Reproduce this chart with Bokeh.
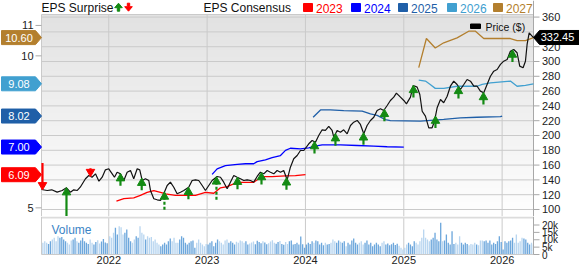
import numpy as np
from bokeh.plotting import figure
from bokeh.models import Range1d
from bokeh.core.properties import value
from bokeh.layouts import column
from bokeh.embed import file_html
from bokeh.resources import INLINE

FONT = "Liberation Sans"

# ---------------- data ----------------
price_t = [2021.316, 2021.374, 2021.42, 2021.475, 2021.526, 2021.57, 2021.61, 2021.644, 2021.68, 2021.71,
           2021.763, 2021.797, 2021.83, 2021.865, 2021.90, 2021.933, 2021.966, 2022.0, 2022.035, 2022.058,
           2022.085, 2022.119, 2022.153, 2022.187, 2022.221, 2022.254, 2022.289, 2022.315, 2022.34, 2022.373,
           2022.407, 2022.424, 2022.458, 2022.492, 2022.526, 2022.559, 2022.594, 2022.627, 2022.661, 2022.695,
           2022.729, 2022.763, 2022.813, 2022.848, 2022.882, 2022.915, 2022.95, 2022.983, 2023.017, 2023.051,
           2023.102, 2023.136, 2023.169, 2023.204, 2023.237, 2023.271, 2023.306, 2023.339, 2023.373, 2023.407,
           2023.441, 2023.474, 2023.509, 2023.542, 2023.576, 2023.611, 2023.644, 2023.678, 2023.712, 2023.746,
           2023.779, 2023.814, 2023.847, 2023.881, 2023.916, 2023.949, 2023.983, 2024.034, 2024.068, 2024.102,
           2024.135, 2024.17, 2024.203, 2024.237, 2024.271, 2024.288, 2024.322, 2024.356, 2024.389, 2024.424,
           2024.458, 2024.491, 2024.526, 2024.559, 2024.593, 2024.627, 2024.661, 2024.695, 2024.729, 2024.763,
           2024.796, 2024.831, 2024.864, 2024.898, 2024.925, 2024.966, 2025.0, 2025.027, 2025.068, 2025.096,
           2025.136, 2025.163, 2025.187, 2025.22, 2025.254, 2025.288, 2025.312, 2025.339, 2025.373, 2025.406,
           2025.441, 2025.474, 2025.508, 2025.542, 2025.576, 2025.61, 2025.644, 2025.678, 2025.712, 2025.746,
           2025.779, 2025.813, 2025.847, 2025.881, 2025.915, 2025.949, 2025.983, 2026.016, 2026.051, 2026.084,
           2026.118, 2026.152, 2026.179, 2026.213, 2026.237, 2026.254, 2026.275, 2026.305, 2026.319]
price_v = [127.0, 125.7, 126.6, 123.4, 125.7, 129.3, 123.4, 126.6, 125.7, 130.1,
           141.5, 145.9, 143.6, 148.2, 138.2, 143.6, 153.6, 155.0, 148.2, 143.6,
           150.4, 148.2, 139.2, 150.4, 152.7, 141.5, 155.0, 153.6, 139.2, 141.5,
           139.2, 125.7, 114.5, 113.1, 112.2, 121.2, 132.4, 136.9, 130.1, 121.2,
           123.4, 125.7, 130.1, 139.2, 140.1, 139.2, 132.4, 125.7, 132.4, 139.2,
           144.6, 143.6, 136.9, 128.0, 136.9, 145.9, 143.6, 141.5, 139.2, 140.1,
           139.2, 136.9, 144.6, 150.4, 148.2, 152.7, 150.4, 148.2, 152.7, 150.4,
           152.7, 140.1, 157.2, 168.5, 173.0, 179.7, 179.7, 188.8, 193.2, 190.9,
           200.0, 207.7, 206.8, 212.2, 206.8, 197.7, 206.8, 204.5, 207.7, 202.3,
           213.5, 218.0, 220.3, 214.9, 202.3, 213.5, 220.3, 224.7, 233.8, 236.1,
           233.8, 240.5, 247.3, 251.8, 257.2, 251.8, 247.3, 242.8, 251.8, 267.6,
           265.3, 255.4, 232.8, 226.1, 210.4, 210.4, 219.3, 237.4, 248.6, 244.2,
           253.1, 266.6, 273.4, 268.9, 262.2, 268.9, 275.7, 273.4, 266.6, 266.6,
           259.9, 257.7, 268.9, 280.1, 286.9, 289.2, 296.0, 300.4, 302.7, 313.9,
           316.2, 311.8, 293.7, 291.5, 300.4, 323.0, 338.8, 334.2, 332.45]
last_price = 332.45

cons2023_t = [2022.078, 2022.153, 2022.254, 2022.322, 2022.39, 2022.458, 2022.526, 2022.577, 2022.678, 2022.78,
              2022.882, 2022.983, 2023.068, 2023.136, 2023.204, 2023.288, 2023.339, 2023.474, 2023.56, 2023.661,
              2023.797, 2023.898, 2024.0]
cons2023_v = [5.22, 5.30, 5.33, 5.41, 5.51, 5.57, 5.51, 5.46, 5.41, 5.41,
              5.41, 5.51, 5.48, 5.66, 5.70, 5.81, 5.84, 5.84, 6.03, 6.03,
              6.05, 6.06, 6.09]
cons2024_t = [2023.051, 2023.102, 2023.186, 2023.306, 2023.39, 2023.474, 2023.509, 2023.593, 2023.661, 2023.746,
              2023.797, 2023.847, 2023.949, 2024.034, 2024.084, 2024.17, 2024.356, 2024.526, 2024.695, 2024.831,
              2025.0]
cons2024_v = [6.10, 6.28, 6.39, 6.43, 6.45, 6.45, 6.52, 6.58, 6.65, 6.72,
              6.89, 6.96, 6.94, 6.97, 7.02, 7.07, 7.07, 7.05, 7.03, 7.01,
              7.00]
cons2025_t = [2024.078, 2024.153, 2024.254, 2024.389, 2024.577, 2024.661, 2024.729, 2024.814, 2024.864, 2025.169,
              2025.406, 2025.576, 2025.746, 2025.983, 2026.0]
cons2025_v = [7.98, 8.22, 8.22, 8.20, 8.18, 8.09, 8.04, 7.90, 7.87, 7.85,
              7.91, 7.96, 7.98, 8.00, 8.02]
cons2026_t = [2025.152, 2025.22, 2025.269, 2025.32, 2025.406, 2025.542, 2025.746, 2025.797, 2025.881, 2026.084,
              2026.152, 2026.237, 2026.319]
cons2026_v = [9.20, 9.17, 9.06, 8.93, 8.93, 9.00, 9.00, 9.06, 9.11, 9.17,
              9.00, 9.03, 9.08]
cons2027_t = [2025.152, 2025.23, 2025.32, 2025.406, 2025.542, 2025.66, 2025.729, 2025.813, 2025.949, 2026.084,
              2026.152, 2026.237, 2026.319]
cons2027_v = [9.61, 10.57, 10.26, 10.43, 10.59, 10.81, 10.81, 10.57, 10.57, 10.57,
              10.50, 10.50, 10.60]

cons_years = ["2023", "2024", "2025", "2026", "2027"]
cons_latest = [6.09, 7.00, 8.02, 9.08, 10.60]

# EPS surprises: report dates, arrow length (in $ of the price scale), dashed flag
beat_t = [2021.57, 2022.119, 2022.335, 2022.566, 2022.81, 2023.095, 2023.309, 2023.553, 2023.807,
          2024.092, 2024.305, 2024.59, 2024.803, 2025.098, 2025.322, 2025.556, 2025.81, 2026.105]
beat_len = [42, 16, 16, 24, 16, 31, 16, 16, 16, 16, 16, 16, 16, 16, 16, 16, 16, 16]
beat_dash = [False, False, False, True, False, True, False, False, False,
             False, False, False, False, False, False, False, False, False]
miss_t = [2021.326, 2021.814]
miss_len = [36, 11]

# weekly volume (thousands)
vol_2021 = [7.9, 9.0, 7.9, 7.2, 9.0, 10.2, 11.3, 9.0, 12.4, 11.3, 11.8, 10.2, 9.0, 7.9, 6.8, 9.5, 10.2, 11.3,
            9.0, 7.9, 9.5, 11.3, 9.0, 7.9, 7.2, 10.2, 7.9, 6.8, 8.5, 9.6, 7.4, 8.8, 10.5, 8.2, 7.6]
vol_2022 = [12.4, 11.3, 14.7, 18.1, 13.6, 19.2, 18.5, 13.6, 14.7, 16.9, 11.3, 9.0, 7.9, 10.2, 12.4, 11.3, 19.2,
            14.7, 13.6, 10.2, 12.4, 11.3, 11.8, 9.0, 10.2, 7.9, 6.8, 5.6, 6.8, 7.9, 6.8, 9.0, 10.8, 9.0, 11.3,
            7.9, 7.9, 10.2, 12.4, 11.3, 7.9, 6.8, 7.9, 9.0, 9.5, 4.5, 7.9, 10.2, 7.9, 6.8, 5.6, 7.2]
vol_2023 = [6.8, 7.9, 9.0, 5.6, 7.9, 10.2, 9.0, 7.9, 6.8, 9.5, 10.2, 7.9, 9.0, 7.9, 6.8, 8.6, 7.9, 9.5, 9.0,
            7.9, 9.0, 6.8, 7.4, 8.1, 8.8, 7.0, 9.3, 8.4, 7.6, 9.0, 8.2, 6.9, 7.7, 8.8, 9.6, 8.0, 7.3, 8.5, 9.1,
            7.2, 6.6, 8.4, 7.2, 9.0, 9.5, 6.8, 7.2, 7.9, 6.8, 12.2, 7.0, 4.5]
vol_2024 = [6.8, 7.9, 7.2, 9.0, 7.9, 9.5, 9.0, 6.8, 7.9, 6.3, 7.9, 6.8, 7.2, 7.9, 10.2, 9.0, 7.9, 9.5, 8.6,
            7.9, 9.0, 5.6, 7.9, 6.8, 9.5, 10.8, 7.9, 6.8, 7.9, 9.0, 6.8, 7.9, 9.5, 6.8, 7.9, 5.6, 6.8, 7.9,
            6.8, 5.6, 7.9, 9.0, 6.8, 7.4, 6.2, 7.0, 8.0, 6.5, 7.3, 6.0, 4.5, 3.4]
vol_2025 = [4.5, 6.8, 7.9, 6.8, 5.6, 9.0, 7.9, 6.8, 9.0, 11.3, 16.9, 11.3, 10.2, 9.0, 10.2, 11.3, 14.7, 10.2,
            9.0, 21.5, 9.0, 9.5, 13.6, 7.9, 6.8, 15.8, 7.2, 7.9, 6.8, 12.4, 7.9, 6.8, 7.9, 7.2, 6.3, 7.2, 6.8,
            7.9, 6.8, 6.3, 9.5, 9.5, 9.0, 9.5, 7.9, 9.5, 6.8, 7.9, 7.2, 9.0, 12.4, 8.4]
vol_2026 = [3.4, 9.0, 7.9, 9.0, 9.5, 11.3, 7.9, 13.6, 7.9, 9.0, 11.3, 10.8, 10.2, 7.9, 6.8, 7.9, 6.8]

year_ticks = [2022, 2023, 2024, 2025, 2026]
price_ticks = [100, 120, 140, 160, 180, 200, 220, 240, 260, 280, 300, 320, 360]
price_grid = [100, 120, 140, 160, 180, 200, 220, 240, 260, 280, 300, 320, 340, 360]
eps_ticks = [5, 10, 11]
vol_ticks = [0, 5, 10, 15, 20]
vol_tick_labels = ["0", "5k", "10k", "15k", "20k"]

# ---------------- layout constants (pixels) ----------------
W = 579
LEFT, RIGHT_X, TOP = 41, 533, 14     # chart area left / right edge, top edge
MAIN_H, VOL_H = 216, 48
VOL_FB = 38                          # volume frame bottom inside the volume canvas
T0, T1 = 2021.316, 2026.319
PXY = (RIGHT_X - LEFT) / (T1 - T0)   # px per year
PPX = 0.74                           # px per $ of price
P_END = 363.5
EPX = 30.4                           # px per $ of EPS
E_END = 11.36
VPX = 1.475                          # px per 1k shares

def X(px):
    return T0 + (px - LEFT) / PXY

def YP(py):
    return P_END - (py - TOP) / PPX

def YE(py):
    return E_END - (py - TOP) / EPX

def YV(py):
    return (VOL_FB - py) / VPX

P_START = YP(MAIN_H)
V_END = YV(0)

GRID = "#cacaca"
AXIS = "#a8a8a8"
GREEN = "#138a13"
RED = "#ff0000"
TXT = "#222222"
COLORS = {"2023": "#ff0000", "2024": "#0000ff", "2025": "#1f5fa8", "2026": "#41a0d0", "2027": "#b37f2e"}

def txt(fig, xs, ys, texts, colors, size, align="left", baseline="middle", **kw):
    fig.text(x=xs, y=ys, text=texts, text_color=colors, text_font=value(FONT), text_font_size=size,
             text_align=align, text_baseline=baseline, **kw)

# ---------------- main panel ----------------
p = figure(width=W, height=MAIN_H, x_range=Range1d(X(0), X(W)), y_range=Range1d(YP(MAIN_H), YP(0)),
           min_border=0, x_axis_location=None, y_axis_location=None,
           output_backend="svg", toolbar_location=None)
p.grid.visible = False
p.outline_line_color = None
p.background_fill_color = "white"
p.border_fill_color = "white"
p.extra_y_ranges = {"eps": Range1d(YE(MAIN_H), YE(0))}

# vertical gradient background of the chart area
N = 120
frac = np.linspace(0.0, 1.0, N)
g = np.clip(255 - 29 * frac, 0, 255).astype(np.uint8)
img = np.zeros((N, 1), dtype=np.uint32)
view = img.view(dtype=np.uint8).reshape((N, 1, 4))
view[:, 0, 0] = g
view[:, 0, 1] = g
view[:, 0, 2] = g
view[:, 0, 3] = 255
p.image_rgba(image=[img], x=T0, y=P_START, dw=T1 - T0, dh=P_END - P_START)

# grid lines
p.segment(x0=[T0] * len(price_grid), x1=[T1] * len(price_grid), y0=price_grid, y1=price_grid,
          line_color=GRID, line_width=1)
p.segment(x0=year_ticks, x1=year_ticks, y0=[P_START] * len(year_ticks), y1=[P_END] * len(year_ticks),
          line_color=GRID, line_width=1)
# chart border
p.segment(x0=[T0, T0], x1=[T1, T0], y0=[P_END, P_START], y1=[P_END, P_END], line_color=GRID, line_width=1)
p.segment(x0=[T1], x1=[T1], y0=[P_START], y1=[YP(0)], line_color=AXIS, line_width=1)

# consensus lines
for yr, tt, vv in [("2023", cons2023_t, cons2023_v), ("2024", cons2024_t, cons2024_v),
                   ("2025", cons2025_t, cons2025_v), ("2026", cons2026_t, cons2026_v),
                   ("2027", cons2027_t, cons2027_v)]:
    p.line(tt, vv, y_range_name="eps", line_color=COLORS[yr], line_width=1.3)

# price
p.line(price_t, price_v, line_color="#111111", line_width=1.2)

# surprise arrows
HEAD = 4.6 / PPX
bt = np.array(beat_t)
btip = np.interp(bt, price_t, price_v)
bc = btip - HEAD
btail = np.maximum(btip - np.array(beat_len), P_START)
solid = [i for i, d in enumerate(beat_dash) if not d]
dash = [i for i, d in enumerate(beat_dash) if d]
p.segment(x0=bt[solid], y0=bc[solid], x1=bt[solid], y1=btail[solid], line_color=GREEN, line_width=2.2)
p.segment(x0=bt[dash], y0=bc[dash], x1=bt[dash], y1=btail[dash], line_color=GREEN, line_width=2.2,
          line_dash="3 2")
p.scatter(bt, bc, marker="triangle", size=8.5, fill_color=GREEN, line_color=GREEN)

mt = np.array(miss_t)
mtip = np.interp(mt, price_t, price_v)
mc = mtip + HEAD
mtail = mtip + np.array(miss_len)
p.segment(x0=mt, y0=mc, x1=mt, y1=mtail, line_color=RED, line_width=2.2)
p.scatter(mt, mc, marker="inverted_triangle", size=8.5, fill_color=RED, line_color=RED)

# right price axis (ticks + labels)
p.segment(x0=[T1] * len(price_ticks), x1=[X(RIGHT_X + 6)] * len(price_ticks), y0=price_ticks, y1=price_ticks,
          line_color=AXIS, line_width=1)
txt(p, [X(RIGHT_X + 8.5)] * len(price_ticks), price_ticks, [str(t) for t in price_ticks], TXT, "11px")

# left EPS axis (ticks + labels)
p.segment(x0=[X(LEFT - 6)] * len(eps_ticks), x1=[T0] * len(eps_ticks), y0=eps_ticks, y1=eps_ticks,
          line_color=AXIS, line_width=1, y_range_name="eps")
txt(p, [X(LEFT - 8)] * len(eps_ticks), eps_ticks, [str(t) for t in eps_ticks], TXT, "11px", align="right",
    y_range_name="eps")

# left EPS badges
hb = 7.0 / EPX
bx = [X(1), X(35), X(41), X(35), X(1)]
p.patches(xs=[bx] * len(cons_latest),
          ys=[[v + hb, v + hb, v, v - hb, v - hb] for v in cons_latest],
          fill_color=[COLORS[y] for y in cons_years], line_color=[COLORS[y] for y in cons_years],
          y_range_name="eps")
txt(p, [X(18.5)] * len(cons_latest), cons_latest, [f"{v:.2f}" for v in cons_latest], "white", "11px",
    align="center", y_range_name="eps")

# last price tag on the right
hp = 7.0 / PPX
p.patch(x=[X(RIGHT_X), X(RIGHT_X + 6), X(W), X(W), X(RIGHT_X + 6)],
        y=[last_price, last_price + hp, last_price + hp, last_price - hp, last_price - hp],
        fill_color="black", line_color="black")
txt(p, [X(557)], [last_price], [f"{last_price:.2f}"], "white", "11px", align="center")

# price legend inside the chart
p.quad(left=X(470), right=X(480), top=YP(23.5), bottom=YP(28), fill_color="black", line_color="black")
txt(p, [X(485)], [YP(26)], ["Price ($)"], "#111111", "10.5px")

# top legend
txt(p, [X(41)], [YP(7.5)], ["EPS Surprise"], "#111111", "12px")

def arrow(cx, y_tip, y_tail, up):
    hw, sw, hh = 3.8, 1.2, 4.5
    d = hh if up else -hh
    ys = [y_tip, y_tip + d, y_tip + d, y_tail, y_tail, y_tip + d, y_tip + d]
    xs = [cx, cx + hw, cx + sw, cx + sw, cx - sw, cx - sw, cx - hw]
    return [X(v) for v in xs], [YP(v) for v in ys]

gx, gy = arrow(118, 2.7, 10.7, True)
rx, ry = arrow(128, 10.7, 2.7, False)
p.patches(xs=[gx, rx], ys=[gy, ry], fill_color=[GREEN, RED], line_color=[GREEN, RED])

txt(p, [X(203)], [YP(7.5)], ["EPS Consensus"], "#111111", "12px")
leg_sq = [303, 351, 398, 447, 493]
p.quad(left=[X(s) for s in leg_sq], right=[X(s + 9) for s in leg_sq], top=[YP(3)] * 5, bottom=[YP(11)] * 5,
       fill_color=[COLORS[y] for y in cons_years], line_color=[COLORS[y] for y in cons_years])
txt(p, [X(s + 12.5) for s in leg_sq], [YP(7.5)] * 5, cons_years, [COLORS[y] for y in cons_years], "12px")

# ---------------- volume panel ----------------
v = figure(width=W, height=VOL_H, x_range=p.x_range, y_range=Range1d(YV(VOL_H), YV(0)),
           min_border=0, x_axis_location=None, y_axis_location=None,
           output_backend="svg", toolbar_location=None)
v.grid.visible = False
v.outline_line_color = None
v.background_fill_color = "white"
v.border_fill_color = "white"

v.segment(x0=year_ticks, x1=year_ticks, y0=[0] * len(year_ticks), y1=[V_END] * len(year_ticks),
          line_color=GRID, line_width=1)

vol = []
vol_t = []
for start, seg in [(2021.33, vol_2021), (2022.01, vol_2022), (2023.01, vol_2023), (2024.01, vol_2024),
                   (2025.01, vol_2025), (2026.01, vol_2026)]:
    vol += seg
    vol_t += [start + i / 52.0 for i in range(len(seg))]
vol_t = np.array(vol_t)
wk_chg = np.interp(vol_t, price_t, price_v) - np.interp(vol_t - 1 / 52.0, price_t, price_v)
vcolors = ["#6da7dc" if c >= 0 else "#b9d6f0" for c in wk_chg]
v.vbar(x=vol_t, top=vol, bottom=0, width=0.7 / 52, fill_color=vcolors, line_color=None)

# separator band between panels
v.quad(left=T0, right=T1, bottom=YV(2), top=YV(0), fill_color="#dcdcdc", line_color=None)
# borders and right axis
v.segment(x0=[T0, T0], x1=[T0, T1], y0=[0, 0], y1=[V_END, 0], line_color=GRID, line_width=1)
v.segment(x0=[T1], x1=[T1], y0=[0], y1=[V_END], line_color=AXIS, line_width=1)
v.segment(x0=[T1] * len(vol_ticks), x1=[X(RIGHT_X + 6)] * len(vol_ticks), y0=vol_ticks, y1=vol_ticks,
          line_color=AXIS, line_width=1)
txt(v, [X(RIGHT_X + 8.5)] * len(vol_ticks), vol_ticks, vol_tick_labels, TXT, "10px")

txt(v, [X(51)], [YV(13)], ["Volume"], "#3b84c6", "12px")
txt(v, year_ticks, [YV(39)] * len(year_ticks), [str(y) for y in year_ticks], TXT, "11px",
    align="center", baseline="top")

layout = column(p, v, spacing=0)
open("out.html", "w").write(file_html(layout, INLINE))
